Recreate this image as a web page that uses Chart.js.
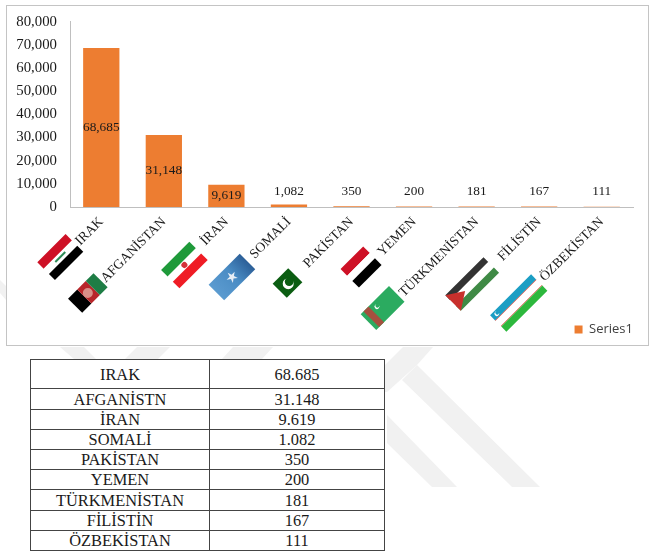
<!DOCTYPE html>
<html>
<head>
<meta charset="utf-8">
<script src="https://cdn.jsdelivr.net/npm/chart.js@4"></script>
<style>
  html, body { margin: 0; padding: 0; background: #fff; }
  body { position: relative; width: 652px; height: 554px; overflow: hidden; font-family: "Liberation Serif", serif; }
  #mark { position: absolute; left: 0; top: 0; }
  #box { position: absolute; left: 6px; top: 5px; width: 641px; height: 339px; border: 1px solid #c4c4c4; background: #fff; }
  #wrap { position: absolute; left: 0; top: 0; width: 652px; height: 350px; }
  #tbl { position: absolute; left: 30px; top: 359px; width: 354px; height: 192px; border-collapse: collapse; table-layout: fixed; font-size: 16.4px; color: #1a1a1a; background: #fff; }
  #tbl td { border: 1px solid #444; padding: 2px 0 0; text-align: center; line-height: 1; }
</style>
</head>
<body>
<svg id="mark" width="652" height="554">
  <g fill="#f1f1f1">
    <polygon points="417,365 540,487 512,487 402,380"/>
    <polygon points="387,415 457,487 432,487 387,443"/>
    <polygon points="403,347 433,347 417,365 387,392 384,392 384,366"/>
    <polygon points="60,347 84,347 96,359 74,359"/>
    <polygon points="137,347 170,347 158,359 125,359"/>
    <polygon points="233,347 273,347 262,359 222,359"/>
    <polygon points="0,280 6,286 6,300 0,293"/>
  </g>
</svg>
<div id="box"></div>
<div id="wrap"><canvas id="chart"></canvas></div>
<table id="tbl"></table>
<script>
const categories = ['IRAK', 'AFGANİSTAN', 'İRAN', 'SOMALİ', 'PAKİSTAN', 'YEMEN', 'TÜRKMENİSTAN', 'FİLİSTİN', 'ÖZBEKİSTAN'];
const values = [68685, 31148, 9619, 1082, 350, 200, 181, 167, 111];
const valueLabels = ['68,685', '31,148', '9,619', '1,082', '350', '200', '181', '167', '111'];
const tableNames = ['IRAK', 'AFGANİSTN', 'İRAN', 'SOMALİ', 'PAKİSTAN', 'YEMEN', 'TÜRKMENİSTAN', 'FİLİSTİN', 'ÖZBEKİSTAN'];
const tableValues = ['68.685', '31.148', '9.619', '1.082', '350', '200', '181', '167', '111'];
const rowHeights = [29, 21, 20, 20, 20, 20, 21, 20, 20];

const tbl = document.getElementById('tbl');
tbl.innerHTML = '<colgroup><col style="width:179px"><col style="width:175px"></colgroup>' +
  tableNames.map((n, i) => `<tr style="height:${rowHeights[i]}px"><td>${n}</td><td>${tableValues[i]}</td></tr>`).join('');

function bands(ctx, w, h, list) {
  let y = -h / 2;
  list.forEach(([c, part]) => {
    ctx.fillStyle = c;
    ctx.fillRect(-w / 2, y, w, h * part);
    y += h * part;
  });
}

function crescent(ctx, x, y, r, bg) {
  ctx.fillStyle = '#fff';
  ctx.beginPath(); ctx.arc(x, y, r, 0, Math.PI * 2); ctx.fill();
  ctx.fillStyle = bg;
  ctx.beginPath(); ctx.arc(x + r * 0.4, y - r * 0.15, r * 0.8, 0, Math.PI * 2); ctx.fill();
}

// one painter per flag, each centred on 0,0 and already turned to the label angle
const flags = [
  { dx: -41, dy: 50, paint(c) {
    bands(c, 40, 25, [['#ce1126', 0.36], ['#fff', 0.3], ['#000', 0.34]]);
    c.fillStyle = '#2e8b57'; c.fillRect(-7, -1, 14, 2);
  } },
  { dx: -76, dy: 86, paint(c) {
    c.fillStyle = '#000'; c.fillRect(-18, -10, 13, 20);
    c.fillStyle = '#b8262a'; c.fillRect(-5, -10, 12, 20);
    c.fillStyle = '#1e7d45'; c.fillRect(7, -10, 11, 20);
    c.fillStyle = '#d98f88'; c.beginPath(); c.arc(0, 0, 5, 0, Math.PI * 2); c.fill();
  } },
  { dx: -42, dy: 58, paint(c) {
    bands(c, 40, 26, [['#1f9a3a', 0.36], ['#fff', 0.28], ['#ef1c25', 0.36]]);
    c.fillStyle = '#d3323a'; c.beginPath(); c.arc(0, 0, 3, 0, Math.PI * 2); c.fill();
  } },
  { dx: -57, dy: 70, paint(c) {
    const g = c.createLinearGradient(-22, 0, 22, 0);
    g.addColorStop(0, '#5b9bd0'); g.addColorStop(0.55, '#4a8cc4'); g.addColorStop(1, '#2c5f98');
    c.fillStyle = g; c.fillRect(-22, -11, 44, 22);
    c.fillStyle = '#e8eef5';
    c.beginPath();
    for (let i = 0; i < 10; i++) {
      const r = i % 2 ? 2.2 : 6, a = -Math.PI / 2 + i * Math.PI / 5;
      c.lineTo(r * Math.cos(a), r * Math.sin(a));
    }
    c.fill();
  } },
  { dx: -64, dy: 76, paint(c) {
    c.fillStyle = '#0b5d12'; c.fillRect(-11, -10, 22, 20);
    crescent(c, 0, 1, 5.5, '#0b5d12');
  } },
  { dx: -53, dy: 60, paint(c) {
    bands(c, 32, 26, [['#ce1126', 0.36], ['#fff', 0.28], ['#000', 0.36]]);
  } },
  { dx: -94, dy: 101, paint(c) {
    c.fillStyle = '#2bab60'; c.fillRect(-20, -11, 40, 22);
    c.fillStyle = '#a5503f'; c.fillRect(-16, -11, 7, 22);
    crescent(c, -3, -5, 2.5, '#2bab60');
  } },
  { dx: -67, dy: 77, paint(c) {
    bands(c, 54, 22, [['#333', 0.31], ['#fff', 0.36], ['#3f8a45', 0.33]]);
    c.fillStyle = '#c8302c';
    c.beginPath(); c.moveTo(-27, -11); c.lineTo(-10, 0); c.lineTo(-27, 11); c.fill();
  } },
  { dx: -83, dy: 96, paint(c) {
    bands(c, 58, 23, [['#1b9ec4', 0.31], ['#d9483b', 0.03], ['#fff', 0.32], ['#d9483b', 0.03], ['#2db83d', 0.31]]);
    crescent(c, -23, -8, 2.4, '#1b9ec4');
  } }
];

const barLabels = {
  id: 'barLabels',
  afterDatasetsDraw(chart) {
    const { ctx } = chart;
    const bars = chart.getDatasetMeta(0).data;
    ctx.save();
    ctx.font = '13.3px "Liberation Serif"';
    ctx.fillStyle = '#1a1a1a';
    ctx.textAlign = 'center';
    ctx.textBaseline = 'middle';
    bars.forEach((bar, i) => {
      // big bars carry the number in the middle, short ones above the bar
      const inside = values[i] > 5000;
      const y = inside ? (bar.y + bar.base) / 2 : chart.scales.y.getPixelForValue(0) - 15;
      ctx.fillText(valueLabels[i], bar.x, y);
    });
    ctx.restore();
  }
};

const flagLayer = {
  id: 'flagLayer',
  afterDraw(chart) {
    const { ctx, scales } = chart;
    const base = scales.y.getPixelForValue(0);
    flags.forEach((f, i) => {
      ctx.save();
      ctx.translate(scales.x.getPixelForValue(i) + f.dx, base + f.dy);
      ctx.rotate(-Math.PI / 4);
      f.paint(ctx);
      ctx.restore();
    });
  }
};

Chart.defaults.animation = false;
new Chart(document.getElementById('chart'), {
  type: 'bar',
  data: {
    labels: categories,
    datasets: [{
      label: 'Series1',
      data: values,
      backgroundColor: '#ed7d31',
      barPercentage: 0.58,
      categoryPercentage: 1
    }]
  },
  options: {
    responsive: true,
    maintainAspectRatio: false,
    layout: { padding: { left: 10, right: 19, top: 15, bottom: 4 } },
    plugins: {
      tooltip: { enabled: false },
      legend: {
        position: 'bottom',
        align: 'end',
        labels: {
          boxWidth: 8,
          boxHeight: 8,
          padding: 0,
          color: '#404040',
          font: { family: '"Open Sans"', size: 13 }
        }
      }
    },
    scales: {
      x: {
        grid: { display: false, drawTicks: false },
        border: { color: '#bfbfbf', width: 1 },
        afterFit(s) { s.height = 116; },
        ticks: {
          minRotation: 45,
          maxRotation: 45,
          padding: 7,
          autoSkip: false,
          color: '#1a1a1a',
          font: { family: '"Liberation Serif"', size: 13.6 }
        }
      },
      y: {
        min: 0,
        max: 80000,
        grid: { display: false, drawTicks: false },
        border: { color: '#bfbfbf', width: 1 },
        afterFit(s) { s.width = 60; },
        ticks: {
          stepSize: 10000,
          padding: 13,
          color: '#1a1a1a',
          font: { family: '"Liberation Serif"', size: 14.8 },
          callback: v => v.toLocaleString('en-US')
        }
      }
    }
  },
  plugins: [barLabels, flagLayer]
});
</script>
</body>
</html>
